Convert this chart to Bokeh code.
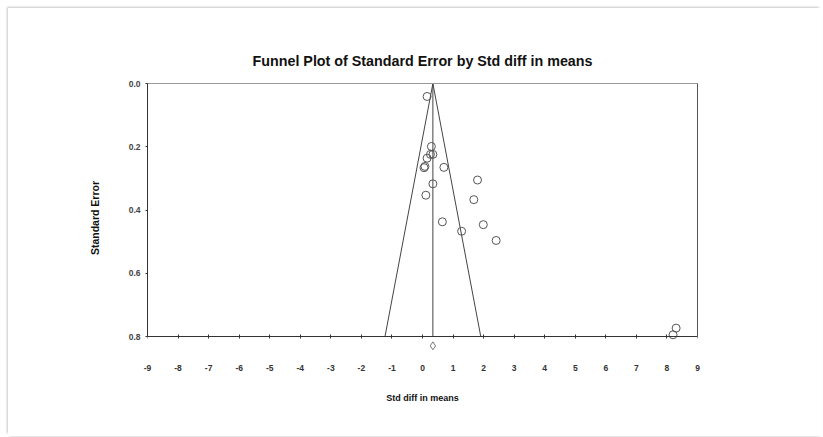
from bokeh.plotting import figure
from bokeh.models import Range1d, FixedTicker, NumeralTickFormatter, LinearAxis
from bokeh.embed import file_html
from bokeh.resources import INLINE

# study-level data: standardized difference in means and its standard error
std_diff = [0.15, 0.29, 0.34, 0.26, 0.15, 0.08, 0.05, 0.70, 1.80, 0.34, 1.68, 0.11,
            0.65, 1.99, 1.28, 2.41, 8.30, 8.20]
std_err = [0.041, 0.199, 0.224, 0.224, 0.236, 0.262, 0.266, 0.265, 0.305, 0.317, 0.367,
           0.353, 0.437, 0.446, 0.467, 0.496, 0.773, 0.794]
combined = 0.34
combined_marker_y = [0.829]
x_ticks = list(range(-9, 10))
x_tick_labels = [str(t) for t in x_ticks]
y_ticks = [0.0, 0.2, 0.4, 0.6, 0.8]
se_max = 0.8
se_view = 0.85          # plotting area extends a little below SE = 0.8 for the diamond
x_min, x_max = -9, 9

FONT = "Liberation Sans"
DARK = "#333333"

p = figure(width=814, height=428, output_backend="svg", toolbar_location=None,
           x_range=Range1d(x_min, x_max), y_range=Range1d(se_view, 0.0),
           min_border_left=139, min_border_right=125, min_border_top=75,
           min_border_bottom=84, title="Funnel Plot of Standard Error by Std diff in means")
p.outline_line_color = None
p.grid.visible = False
p.background_fill_color = "white"
p.border_fill_color = "white"

p.title.align = "center"
p.title.text_font = FONT
p.title.text_font_size = "14.3px"
p.title.text_font_style = "bold"
p.title.text_color = "#111111"
p.title.standoff = 30

# bottom axis: tick labels and title only
xa = p.xaxis[0]
xa.ticker = FixedTicker(ticks=x_ticks)
xa.major_label_overrides = dict(zip(x_ticks, x_tick_labels))
xa.axis_label = "Std diff in means"
xa.axis_label_text_font = FONT
xa.axis_label_text_font_size = "9px"
xa.axis_label_text_font_style = "bold"
xa.axis_label_text_color = "#111111"
xa.axis_label_standoff = 19
xa.major_label_text_font = FONT
xa.major_label_text_font_size = "8.5px"
xa.major_label_text_font_style = "bold"
xa.major_label_text_color = "#333333"
xa.major_label_standoff = 6
xa.axis_line_color = None
xa.major_tick_line_color = None
xa.minor_tick_line_color = None

# axis line with ticks placed at SE = 0.8
x_rule = LinearAxis(fixed_location=se_max, ticker=FixedTicker(ticks=x_ticks),
                    major_label_text_color=None, axis_line_color=DARK,
                    major_tick_line_color=DARK, major_tick_in=2, major_tick_out=2,
                    minor_tick_line_color=None)
p.add_layout(x_rule, "below")

ya = p.yaxis[0]
ya.bounds = (0, se_max)
ya.ticker = FixedTicker(ticks=y_ticks)
ya.formatter = NumeralTickFormatter(format="0.0")
ya.axis_label = "Standard Error"
ya.axis_label_text_font = FONT
ya.axis_label_text_font_size = "10.5px"
ya.axis_label_text_font_style = "bold"
ya.axis_label_text_color = "#111111"
ya.axis_label_standoff = 25
ya.major_label_text_font = FONT
ya.major_label_text_font_size = "8.5px"
ya.major_label_text_font_style = "bold"
ya.major_label_text_color = "#444444"
ya.major_label_standoff = 5
ya.axis_line_color = DARK
ya.major_tick_line_color = DARK
ya.major_tick_in = 0
ya.major_tick_out = 2
ya.minor_tick_line_color = None

# top and right frame lines
top = LinearAxis(ticker=FixedTicker(ticks=[]), major_label_text_color=None,
                 major_label_standoff=0, axis_line_color="#999999",
                 major_tick_line_color=None, minor_tick_line_color=None)
p.add_layout(top, "above")
right = LinearAxis(ticker=FixedTicker(ticks=[]), major_label_text_color=None,
                   major_label_standoff=0, axis_line_color="#555555",
                   major_tick_line_color=None, minor_tick_line_color=None,
                   bounds=(0, se_max))
p.add_layout(right, "right")

# funnel and combined-effect line
half = 1.96 * se_max
p.line([combined - half, combined, combined + half], [se_max, 0, se_max],
       line_color="#444444", line_width=1)
p.line([combined, combined], [0, se_max], line_color="#444444", line_width=1)

p.scatter(std_diff, std_err, size=8, marker="circle", fill_color=None,
          line_color="#555555", line_width=1)
p.scatter([combined], combined_marker_y, size=8, marker="diamond", fill_color=None,
          line_color="#777777", line_width=1)

p.styles = {"margin-left": "8px", "margin-top": "8px",
            "box-shadow": "-2px -2px 2px -1px #c8c8c8, 0px 3px 3px -2px #d8d8d8"}

open("out.html", "w").write(file_html(p, INLINE))
